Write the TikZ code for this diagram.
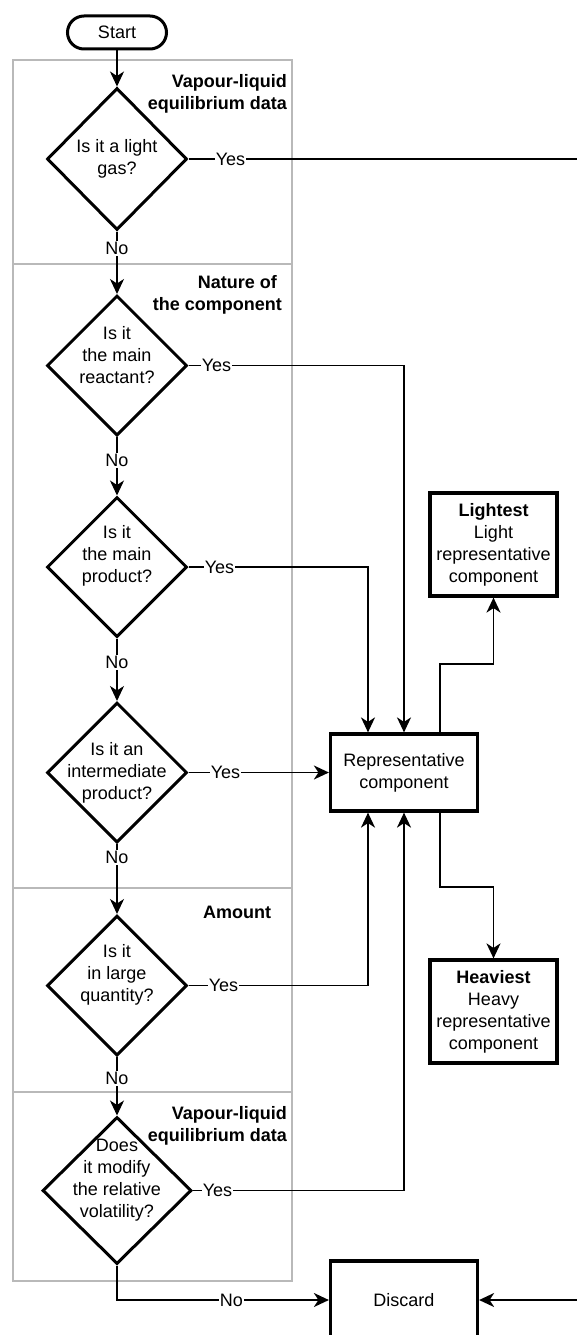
\documentclass[tikz,border=0pt]{standalone}
\usepackage{fontspec}
\setmainfont{Liberation Sans}
\usetikzlibrary{shapes.geometric,arrows.meta,calc}
\definecolor{lanegray}{RGB}{185,185,185}
\begin{document}
\begin{tikzpicture}[x=1pt,y=-1pt,
  every node/.style={font=\fontsize{18}{22}\selectfont},
  dec/.style={diamond, draw, line width=3pt, minimum width=140pt, minimum height=140pt, inner sep=0pt},
  qtext/.style={align=center, inner sep=0pt},
  proc/.style={rectangle, draw, line width=3.2pt, align=center, inner sep=0pt},
  term/.style={rectangle, rounded corners=16.5pt, draw, line width=3pt, minimum width=99pt, minimum height=33pt, inner sep=0pt},
  lane/.style={draw=lanegray, line width=1.6pt},
  lanetitle/.style={font=\fontsize{18}{22}\selectfont\bfseries, align=right, inner sep=0pt},
  conn/.style={line width=1.8pt, -{Stealth[length=15pt,width=14pt,inset=4.5pt]}},
  lbl/.style={fill=white, inner sep=1pt},
]
\useasboundingbox (0,0) rectangle (576,1335);

% swimlanes
\draw[lane] (13,60) rectangle (292,264);
\draw[lane] (13,264) rectangle (292,888);
\draw[lane] (13,888) rectangle (292,1092);
\draw[lane] (13,1092) rectangle (292,1281);

\node[lanetitle, anchor=east] (t1) at (287,93.5) {Vapour-liquid\\equilibrium data};
\node[lanetitle, anchor=east] (t2) at (282,295) {Nature of\hspace*{5pt}\\the component};
\node[lanetitle] (t3) at (237,912) {Amount};
\node[lanetitle, anchor=east] (t4) at (287,1126) {Vapour-liquid\\equilibrium data};

% start
\node[term] (start) at (117,32.5) {Start};

% decisions
\node[dec, minimum height=142pt] (d1) at (117,159) {};
\node[qtext] (q1) at (d1) {Is it a light\\gas?};
\node[dec] (d2) at (117,365.5) {};
\node[qtext] (q2) at (117,355) {Is it\\the main\\reactant?};
\node[dec] (d3) at (117,567) {};
\node[qtext] (q3) at (117,556) {Is it\\the main\\product?};
\node[dec] (d4) at (117,772.5) {};
\node[qtext] (q4) at (117,773) {Is it an\\intermediate\\product?};
\node[dec] (d5) at (117,985.5) {};
\node[qtext] (q5) at (117,975) {Is it\\in large\\quantity?};
\node[dec, minimum width=149pt, minimum height=147pt] (d6) at (117,1190.5) {};
\node[qtext] (q6) at (117,1180) {Does\\it modify\\the relative\\volatility?};

% process boxes
\node[proc, minimum width=147pt, minimum height=77pt] (rep) at (404,772.5) {Representative\\component};
\node[proc, minimum width=127pt, minimum height=103pt] (light) at (493.5,544.5) {\textbf{Lightest}\\Light\\representative\\component};
\node[proc, minimum width=127pt, minimum height=103pt] (heavy) at (493.5,1011.5) {\textbf{Heaviest}\\Heavy\\representative\\component};
\node[proc, minimum width=147pt, minimum height=78pt] (disc) at (404,1300) {Discard};

\coordinate (rt) at (578,159);

% connectors
\draw[conn] (start.south) -- (d1.north);
\draw[conn] (d1.east) -- ++(42,0) node[lbl]{Yes} -- (rt) |- (disc.east);
\draw[conn] (d1.south) -- node[lbl,pos=0.27]{No} (d2.north);
\draw[conn] (d2.south) -- node[lbl,pos=0.40]{No} (d3.north);
\draw[conn] (d3.south) -- node[lbl,pos=0.38]{No} (d4.north);
\draw[conn] (d4.south) -- node[lbl,pos=0.19]{No} (d5.north);
\draw[conn] (d5.south) -- node[lbl,pos=0.37]{No} (d6.north);

\draw[conn] (d2.east) -- ++(28,0) node[lbl]{Yes} -| (rep.north);
\draw[conn] (d3.east) -- ++(31,0) node[lbl]{Yes} -| ([xshift=-36pt]rep.north);
\draw[conn] (d4.east) -- ++(37,0) node[lbl]{Yes} -- (rep.west);
\draw[conn] (d5.east) -- ++(35,0) node[lbl]{Yes} -| ([xshift=-36pt]rep.south);
\draw[conn] (d6.east) -- ++(24.5,0) node[lbl]{Yes} -| (rep.south);
\draw[conn] (d6.south) |- node[lbl,pos=0.77]{No} (disc.west);

\draw[conn] ([xshift=36pt]rep.north) -- ++(0,-68.5) -| (light.south);
\draw[conn] ([xshift=36pt]rep.south) -- ++(0,74.5) -| (heavy.north);
\end{tikzpicture}
\end{document}
